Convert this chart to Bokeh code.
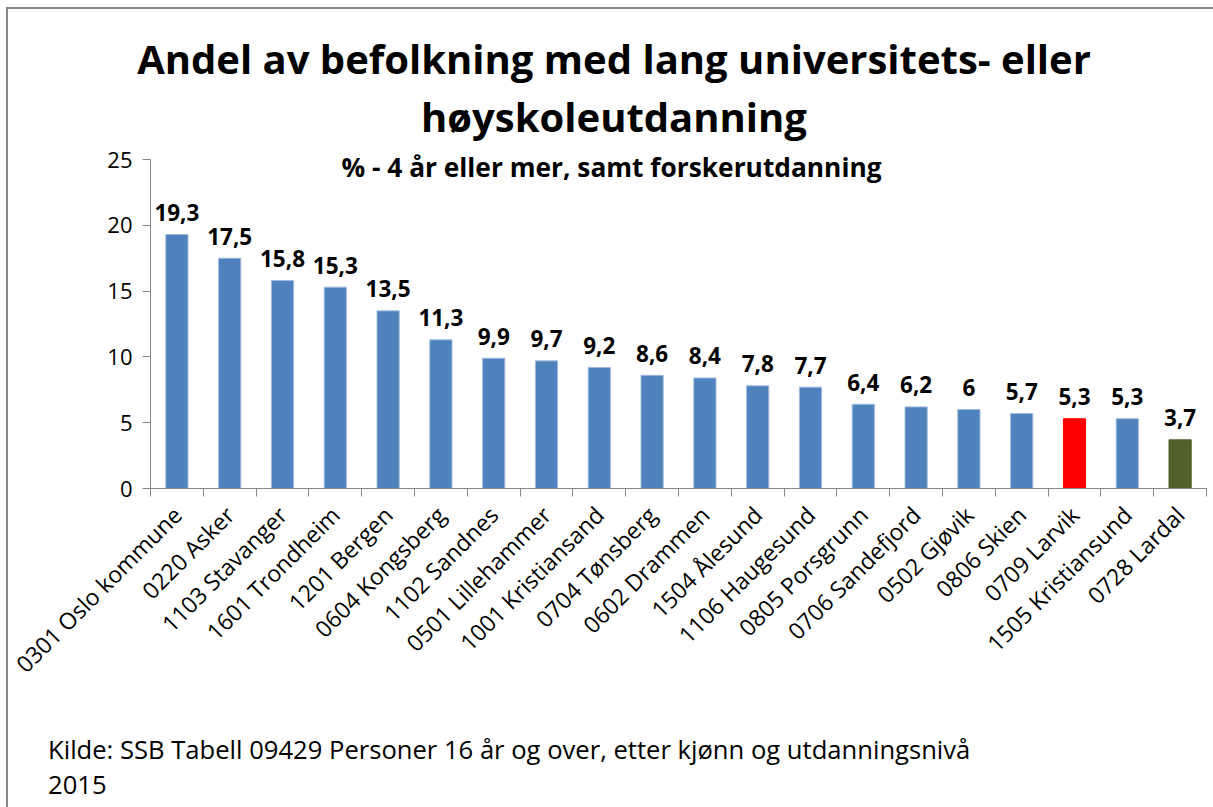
from bokeh.plotting import figure
from bokeh.models import Range1d, FixedTicker, Label, ColumnDataSource, Div
from bokeh.layouts import column
from bokeh.embed import file_html
from bokeh.resources import INLINE
from bokeh.core.properties import value

title_lines = ["Andel av befolkning med lang universitets- eller", "høyskoleutdanning"]
subtitle = "% - 4 år eller mer, samt forskerutdanning"
footnote = ["Kilde: SSB Tabell 09429 Personer 16 år og over, etter kjønn og utdanningsnivå", "2015"]

kommuner = ["0301 Oslo kommune", "0220 Asker", "1103 Stavanger", "1601 Trondheim",
            "1201 Bergen", "0604 Kongsberg", "1102 Sandnes", "0501 Lillehammer",
            "1001 Kristiansand", "0704 Tønsberg", "0602 Drammen", "1504 Ålesund",
            "1106 Haugesund", "0805 Porsgrunn", "0706 Sandefjord", "0502 Gjøvik",
            "0806 Skien", "0709 Larvik", "1505 Kristiansund", "0728 Lardal"]
andel = [19.3, 17.5, 15.8, 15.3, 13.5, 11.3, 9.9, 9.7, 9.2, 8.6, 8.4, 7.8, 7.7,
         6.4, 6.2, 6.0, 5.7, 5.3, 5.3, 3.7]
y_ticks = [0, 5, 10, 15, 20, 25]

BLUE = "#4F81BD"
colors = []
edges = []
for k in kommuner:
    if k == "0709 Larvik":
        colors.append("#FF0000"); edges.append("#FF0000")
    elif k == "0728 Lardal":
        colors.append("#4F6228"); edges.append("#4F6228")
    else:
        colors.append(BLUE); edges.append("#9DB9DD")

def fmt(v):
    s = ("%.1f" % v).replace(".", ",")
    if s.endswith(",0"):
        s = s[:-2]
    return s

n = len(kommuner)
centers = [i + 0.5 for i in range(n)]
src = ColumnDataSource(dict(x=centers, top=andel, color=colors, edge=edges,
                            lab=[fmt(v) for v in andel]))

FONT = "Open Sans"

title_div = Div(
    text="<br>".join(title_lines), width=1202, height=124,
    styles={"font-family": FONT, "font-size": "40px", "font-weight": "bold",
            "line-height": "58px", "text-align": "center", "color": "black",
            "padding-top": "16px", "width": "1202px", "white-space": "nowrap"})

# frame is 340 px tall; 25 units = 329 px, so the top is a little above 25
p = figure(width=1204, height=576, x_range=Range1d(0, n), y_range=Range1d(0, 25.84),
           output_backend="svg", toolbar_location=None,
           min_border_left=142, min_border_right=6, min_border_top=5,
           min_border_bottom=231)
p.outline_line_color = None
p.grid.visible = False
p.background_fill_color = "white"
p.border_fill_color = "white"

p.vbar(x="x", top="top", width=0.42, bottom=0, source=src, fill_color="color",
       line_color="edge", line_width=1)

p.text(x="x", y="top", text="lab", source=src, text_align="center",
       text_baseline="alphabetic", y_offset=-22, text_font=value(FONT),
       text_font_style="bold", text_font_size="22.5px", text_color="black")

xa = p.xaxis[0]
xa.ticker = FixedTicker(ticks=centers, minor_ticks=list(range(n + 1)))
xa.major_label_overrides = {c: k for c, k in zip(centers, kommuner)}
xa.major_label_orientation = 0.785398
xa.major_tick_out = 0
xa.major_tick_in = 0
xa.minor_tick_out = 8
xa.minor_tick_in = 0
xa.minor_tick_line_color = "#868686"
xa.axis_line_color = "#868686"
xa.major_label_text_font = FONT
xa.major_label_text_font_size = "23px"
xa.major_label_text_color = "black"
xa.major_label_standoff = 14

ya = p.yaxis[0]
ya.ticker = FixedTicker(ticks=y_ticks)
ya.bounds = (0, 25)
ya.major_tick_out = 8
ya.major_tick_in = 0
ya.minor_tick_line_color = None
ya.axis_line_color = "#868686"
ya.major_tick_line_color = "#868686"
ya.major_label_text_font = FONT
ya.major_label_text_font_size = "22px"
ya.major_label_text_color = "black"
ya.major_label_standoff = 10

p.add_layout(Label(x=461, y=322, x_units="screen", y_units="screen", text=subtitle,
                   text_align="center", text_baseline="middle", text_font=FONT,
                   text_font_size="26.3px", text_font_style="bold", text_color="black"))

foot_div = Div(
    text="<br>".join(footnote), width=1204, height=87,
    styles={"font-family": FONT, "font-size": "25.6px", "line-height": "35px",
            "color": "black", "padding-top": "8px", "padding-left": "35px",
            "white-space": "nowrap"})

layout = column(title_div, p, foot_div, spacing=0,
                styles={"margin-left": "6px", "margin-top": "7px",
                        "border-left": "2px solid #878787",
                        "border-top": "2px solid #878787",
                        "background-color": "white"})

open("out.html", "w").write(file_html(layout, INLINE))
